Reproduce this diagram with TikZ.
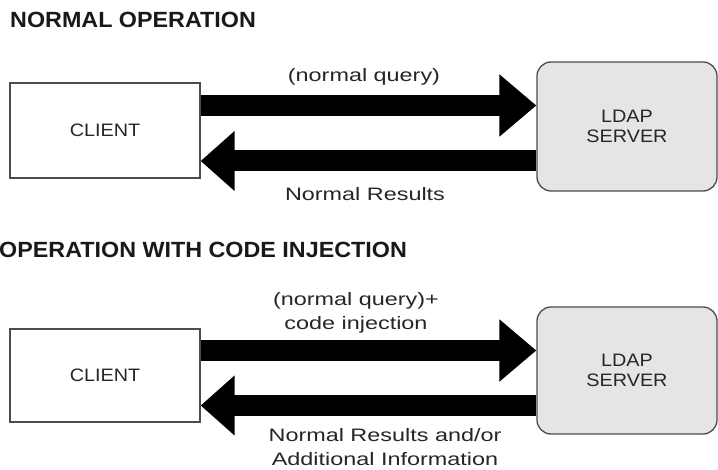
\documentclass[tikz,border=0pt]{standalone}
\usepackage{fontspec}
\setmainfont{Liberation Sans}
\newfontfamily\titlefont[FakeStretch=1.06]{Liberation Sans}
\newfontfamily\boxfont[FakeStretch=1.1]{Liberation Sans}
\newfontfamily\labelfont[FakeStretch=1.3]{Liberation Sans}
\usetikzlibrary{arrows.meta}
\begin{document}
\begin{tikzpicture}[x=1pt,y=-1pt,
  title/.style={anchor=base west, inner sep=0pt, text=black!90,
    font=\titlefont\bfseries\fontsize{22}{26}\selectfont},
  clientbox/.style={draw=black!70, line width=1.3pt, fill=white,
    minimum width=190pt, inner sep=0pt, text=black!85,
    font=\boxfont\fontsize{18}{21}\selectfont},
  serverbox/.style={draw=black!70, line width=1.3pt, fill=black!10,
    rounded corners=14pt, minimum width=180pt, inner sep=0pt, align=center,
    text=black!85, font=\boxfont\fontsize{18}{20.5}\selectfont},
  lbl/.style={anchor=base, inner sep=0pt, align=center, text=black!85,
    font=\labelfont\fontsize{18}{24}\selectfont},
  fwd/.style={line width=21pt, -{Triangle[length=37pt,width=60pt]}},
  bwd/.style={line width=21pt, -{Triangle[length=34pt,width=58pt]}},
]
\fill[white] (0,0) rectangle (718,470);
\useasboundingbox (0,0) rectangle (718,470);

% ---------- normal operation ----------
\node[title] (t1) at (10,27.5) {NORMAL OPERATION};
\node[clientbox, minimum height=95pt] (client1) at (105,130.5) {CLIENT};
\node[serverbox, minimum height=129pt] (server1) at (627,126.5) {LDAP\\SERVER};
\draw[fwd] (client1.east |- 0,105.5) -- (server1.west |- 0,105.5);
\draw[bwd] (server1.west |- 0,161) -- (client1.east |- 0,161);
\node[lbl] (q1) at (364,82) {(normal query)};
\node[lbl] (r1) at (365,200.5) {Normal Results};

% ---------- operation with code injection ----------
\node[title] (t2) at (-1,258) {OPERATION WITH CODE INJECTION};
\node[clientbox, minimum height=93pt] (client2) at (105,375.5) {CLIENT};
\node[serverbox, minimum height=127pt] (server2) at (627,370.5) {LDAP\\SERVER};
\draw[fwd] (client2.east |- 0,350.5) -- (server2.west |- 0,350.5);
\draw[bwd] (server2.west |- 0,405.5) -- (client2.east |- 0,405.5);
\node[lbl] (q2) at (356,330) {(normal query)+\\code injection};
\node[lbl] (r2) at (385,465) {Normal Results and/or\\Additional Information};
\end{tikzpicture}
\end{document}
